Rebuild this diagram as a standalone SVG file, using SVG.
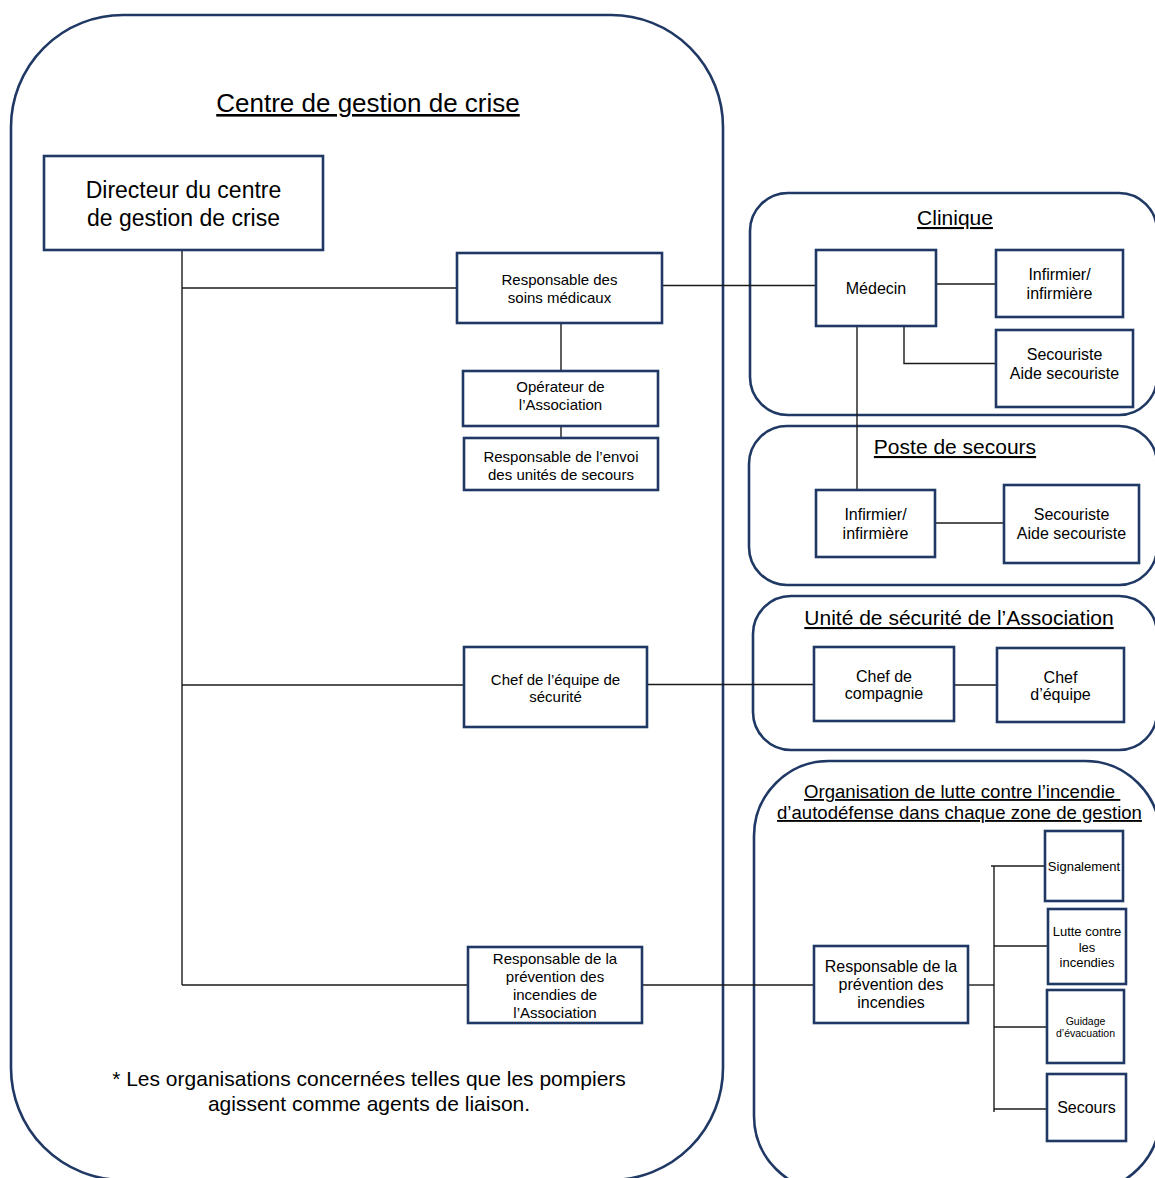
<svg xmlns="http://www.w3.org/2000/svg" width="1155" height="1178" viewBox="0 0 1155 1178">
  <style>
    .frame { fill: none; stroke: #1f3864; stroke-width: 2.6; }
    .box { fill: #ffffff; stroke: #1f3864; stroke-width: 2.6; }
    .conn { fill: none; stroke: #1a1a1a; stroke-width: 1.4; }
    text { font-family: "Liberation Sans", Arial, sans-serif; fill: #000000; text-anchor: middle; }
    .title { font-size: 21px; text-decoration: underline; }
    .t15 { font-size: 15px; }
    .t16 { font-size: 16px; }
  </style>

  <!-- Group frames -->
  <g id="frames">
    <rect id="centre-frame" class="frame" x="11" y="15" width="712" height="1165" rx="112" ry="112"/>
    <rect id="clinique-frame" class="frame" x="750" y="193" width="407" height="222" rx="38" ry="38"/>
    <rect id="poste-frame" class="frame" x="749" y="426" width="408" height="159" rx="38" ry="38"/>
    <rect id="unite-frame" class="frame" x="753" y="596" width="404" height="154" rx="38" ry="38"/>
    <rect id="organisation-frame" class="frame" x="754" y="761" width="406" height="430" rx="75" ry="75"/>
  </g>

  <!-- Frame titles -->
  <g id="titles">
    <text x="368" y="112" style="font-size:26px;text-decoration:underline">Centre de gestion de crise</text>
    <text class="title" x="955" y="225">Clinique</text>
    <text class="title" x="955" y="454">Poste de secours</text>
    <text class="title" x="959" y="625">Unité de sécurité de l’Association</text>
    <text x="804" y="798" xml:space="preserve" style="font-size:18.6px;text-decoration:underline;text-anchor:start">Organisation de lutte contre l’incendie </text>
    <text x="959.5" y="819" style="font-size:18.6px;text-decoration:underline">d’autodéfense dans chaque zone de gestion</text>
  </g>

  <!-- Connectors -->
  <g id="connectors">
    <!-- director trunk and branches -->
    <path class="conn" d="M182,250 V985"/>
    <path class="conn" d="M182,288 H457"/>
    <path class="conn" d="M182,685 H464"/>
    <path class="conn" d="M182,985 H468"/>
    <!-- medical chain -->
    <path class="conn" d="M662,285.5 H816"/>
    <path class="conn" d="M561,323 V371"/>
    <path class="conn" d="M561,426 V438"/>
    <path class="conn" d="M936,284 H996"/>
    <path class="conn" d="M904,326 V363.5 H996"/>
    <path class="conn" d="M857,326 V490"/>
    <path class="conn" d="M935,523 H1004"/>
    <!-- security chain -->
    <path class="conn" d="M647,684.5 H814"/>
    <path class="conn" d="M954,685 H997"/>
    <!-- fire prevention chain -->
    <path class="conn" d="M642,985 H814"/>
    <path class="conn" d="M968,985 H994"/>
    <path class="conn" d="M994,866 V1112"/>
    <path class="conn" d="M991,866 H1045"/>
    <path class="conn" d="M994,946 H1048"/>
    <path class="conn" d="M994,1027 H1047"/>
    <path class="conn" d="M994,1109 H1047"/>
  </g>

  <!-- Nodes -->
  <g id="directeur">
    <rect class="box" x="44" y="156" width="279" height="94"/>
    <text x="183.5" y="198" style="font-size:23px">Directeur du centre</text>
    <text x="183.5" y="226" style="font-size:23px">de gestion de crise</text>
  </g>

  <g id="soins">
    <rect class="box" x="457" y="253" width="205" height="70"/>
    <text class="t15" x="559.5" y="285">Responsable des</text>
    <text class="t15" x="559.5" y="303">soins médicaux</text>
  </g>

  <g id="operateur">
    <rect class="box" x="463" y="371" width="195" height="55"/>
    <text class="t15" x="560.5" y="392">Opérateur de</text>
    <text class="t15" x="560.5" y="410">l’Association</text>
  </g>

  <g id="envoi">
    <rect class="box" x="464" y="438" width="194" height="52"/>
    <text class="t15" x="561" y="462">Responsable de l’envoi</text>
    <text class="t15" x="561" y="480">des unités de secours</text>
  </g>

  <g id="chef-securite">
    <rect class="box" x="464" y="647" width="183" height="80"/>
    <text class="t15" x="555.5" y="685">Chef de l’équipe de</text>
    <text class="t15" x="555.5" y="702">sécurité</text>
  </g>

  <g id="prevention-association">
    <rect class="box" x="468" y="947" width="174" height="76"/>
    <text class="t15" x="555" y="964">Responsable de la</text>
    <text class="t15" x="555" y="982">prévention des</text>
    <text class="t15" x="555" y="1000">incendies de</text>
    <text class="t15" x="555" y="1018">l’Association</text>
  </g>

  <g id="medecin">
    <rect class="box" x="816" y="250" width="120" height="76"/>
    <text class="t16" x="876" y="294">Médecin</text>
  </g>

  <g id="clinique-infirmier">
    <rect class="box" x="996" y="250" width="127" height="67"/>
    <text class="t16" x="1059.5" y="280">Infirmier/</text>
    <text class="t16" x="1059.5" y="299">infirmière</text>
  </g>

  <g id="clinique-secouriste">
    <rect class="box" x="996" y="330" width="137" height="77"/>
    <text class="t16" x="1064.5" y="360">Secouriste</text>
    <text class="t16" x="1064.5" y="379">Aide secouriste</text>
  </g>

  <g id="poste-infirmier">
    <rect class="box" x="816" y="490" width="119" height="67"/>
    <text class="t16" x="875.5" y="520">Infirmier/</text>
    <text class="t16" x="875.5" y="539">infirmière</text>
  </g>

  <g id="poste-secouriste">
    <rect class="box" x="1004" y="485" width="135" height="78"/>
    <text class="t16" x="1071.5" y="520">Secouriste</text>
    <text class="t16" x="1071.5" y="539">Aide secouriste</text>
  </g>

  <g id="chef-compagnie">
    <rect class="box" x="814" y="647" width="140" height="74"/>
    <text class="t16" x="884" y="682">Chef de</text>
    <text class="t16" x="884" y="699">compagnie</text>
  </g>

  <g id="chef-equipe">
    <rect class="box" x="997" y="648" width="127" height="74"/>
    <text class="t16" x="1060.5" y="683">Chef</text>
    <text class="t16" x="1060.5" y="700">d’équipe</text>
  </g>

  <g id="prevention-zone">
    <rect class="box" x="814" y="946" width="154" height="77"/>
    <text class="t16" x="891" y="972">Responsable de la</text>
    <text class="t16" x="891" y="990">prévention des</text>
    <text class="t16" x="891" y="1008">incendies</text>
  </g>

  <g id="signalement">
    <rect class="box" x="1045" y="831" width="78" height="70"/>
    <text x="1084" y="871" style="font-size:13px">Signalement</text>
  </g>

  <g id="lutte">
    <rect class="box" x="1048" y="909" width="78" height="75"/>
    <text x="1087" y="936" style="font-size:13px">Lutte contre</text>
    <text x="1087" y="952" style="font-size:13px">les</text>
    <text x="1087" y="967" style="font-size:13px">incendies</text>
  </g>

  <g id="guidage">
    <rect class="box" x="1047" y="990" width="77" height="73"/>
    <text x="1085.5" y="1025" style="font-size:10.5px">Guidage</text>
    <text x="1085.5" y="1037" style="font-size:10.5px">d’évacuation</text>
  </g>

  <g id="secours">
    <rect class="box" x="1047" y="1074" width="79" height="67"/>
    <text class="t16" x="1086.5" y="1113">Secours</text>
  </g>

  <!-- Footnote -->
  <g id="note">
    <text x="369" y="1086" style="font-size:21px">* Les organisations concernées telles que les pompiers</text>
    <text x="369" y="1111" style="font-size:21px">agissent comme agents de liaison.</text>
  </g>
</svg>
